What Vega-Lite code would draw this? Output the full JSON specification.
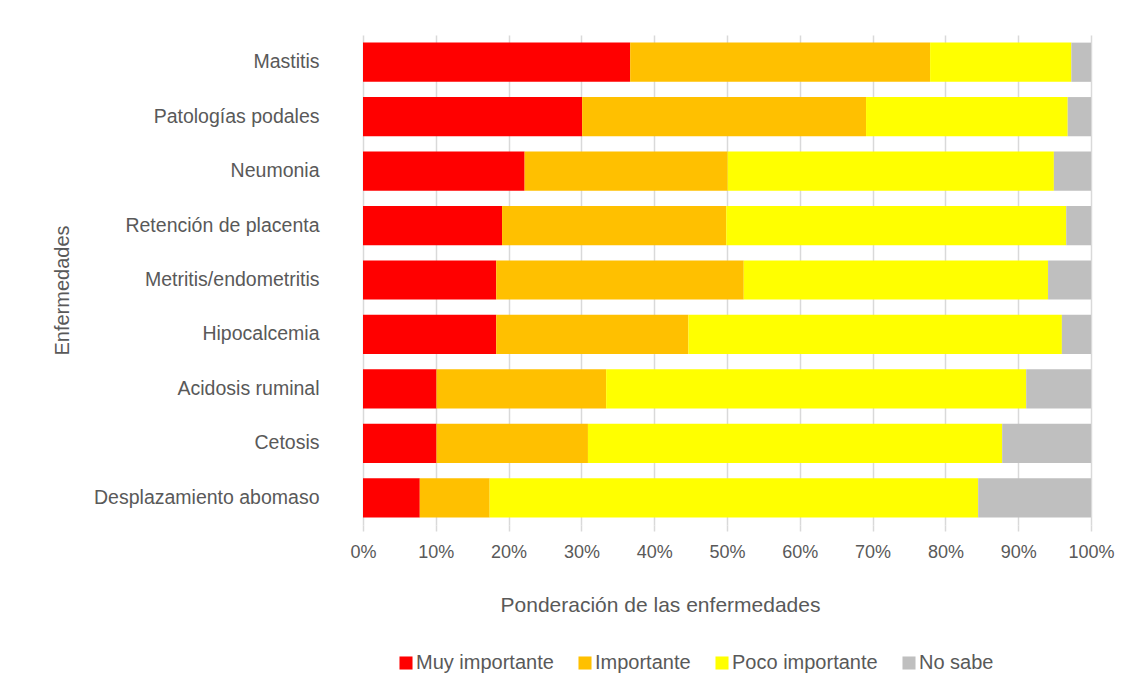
{
  "$schema": "https://vega.github.io/schema/vega-lite/v6.json",
  "width": 728,
  "height": 490,
  "autosize": {"type": "none"},
  "padding": {"left": 363, "top": 35, "right": 44, "bottom": 173},
  "background": "white",
  "config": {
    "view": {"stroke": null},
    "font": "Liberation Sans",
    "axis": {"labelColor": "#595959", "titleColor": "#595959", "titleFontWeight": "normal"},
    "legend": {"labelColor": "#595959"}
  },
  "data": {
    "values": [
      {"enfermedad": "Mastitis", "categoria": "Muy importante", "orden": 1, "valor": 36.7},
      {"enfermedad": "Mastitis", "categoria": "Importante", "orden": 2, "valor": 41.2},
      {"enfermedad": "Mastitis", "categoria": "Poco importante", "orden": 3, "valor": 19.4},
      {"enfermedad": "Mastitis", "categoria": "No sabe", "orden": 4, "valor": 2.7},
      {"enfermedad": "Patologías podales", "categoria": "Muy importante", "orden": 1, "valor": 30.1},
      {"enfermedad": "Patologías podales", "categoria": "Importante", "orden": 2, "valor": 39.0},
      {"enfermedad": "Patologías podales", "categoria": "Poco importante", "orden": 3, "valor": 27.7},
      {"enfermedad": "Patologías podales", "categoria": "No sabe", "orden": 4, "valor": 3.2},
      {"enfermedad": "Neumonia", "categoria": "Muy importante", "orden": 1, "valor": 22.2},
      {"enfermedad": "Neumonia", "categoria": "Importante", "orden": 2, "valor": 27.9},
      {"enfermedad": "Neumonia", "categoria": "Poco importante", "orden": 3, "valor": 44.8},
      {"enfermedad": "Neumonia", "categoria": "No sabe", "orden": 4, "valor": 5.1},
      {"enfermedad": "Retención de placenta", "categoria": "Muy importante", "orden": 1, "valor": 19.1},
      {"enfermedad": "Retención de placenta", "categoria": "Importante", "orden": 2, "valor": 30.8},
      {"enfermedad": "Retención de placenta", "categoria": "Poco importante", "orden": 3, "valor": 46.7},
      {"enfermedad": "Retención de placenta", "categoria": "No sabe", "orden": 4, "valor": 3.4},
      {"enfermedad": "Metritis/endometritis", "categoria": "Muy importante", "orden": 1, "valor": 18.3},
      {"enfermedad": "Metritis/endometritis", "categoria": "Importante", "orden": 2, "valor": 34.0},
      {"enfermedad": "Metritis/endometritis", "categoria": "Poco importante", "orden": 3, "valor": 41.8},
      {"enfermedad": "Metritis/endometritis", "categoria": "No sabe", "orden": 4, "valor": 5.9},
      {"enfermedad": "Hipocalcemia", "categoria": "Muy importante", "orden": 1, "valor": 18.3},
      {"enfermedad": "Hipocalcemia", "categoria": "Importante", "orden": 2, "valor": 26.4},
      {"enfermedad": "Hipocalcemia", "categoria": "Poco importante", "orden": 3, "valor": 51.3},
      {"enfermedad": "Hipocalcemia", "categoria": "No sabe", "orden": 4, "valor": 4.0},
      {"enfermedad": "Acidosis ruminal", "categoria": "Muy importante", "orden": 1, "valor": 10.1},
      {"enfermedad": "Acidosis ruminal", "categoria": "Importante", "orden": 2, "valor": 23.3},
      {"enfermedad": "Acidosis ruminal", "categoria": "Poco importante", "orden": 3, "valor": 57.7},
      {"enfermedad": "Acidosis ruminal", "categoria": "No sabe", "orden": 4, "valor": 8.9},
      {"enfermedad": "Cetosis", "categoria": "Muy importante", "orden": 1, "valor": 10.1},
      {"enfermedad": "Cetosis", "categoria": "Importante", "orden": 2, "valor": 20.8},
      {"enfermedad": "Cetosis", "categoria": "Poco importante", "orden": 3, "valor": 56.9},
      {"enfermedad": "Cetosis", "categoria": "No sabe", "orden": 4, "valor": 12.2},
      {"enfermedad": "Desplazamiento abomaso", "categoria": "Muy importante", "orden": 1, "valor": 7.8},
      {"enfermedad": "Desplazamiento abomaso", "categoria": "Importante", "orden": 2, "valor": 9.6},
      {"enfermedad": "Desplazamiento abomaso", "categoria": "Poco importante", "orden": 3, "valor": 67.1},
      {"enfermedad": "Desplazamiento abomaso", "categoria": "No sabe", "orden": 4, "valor": 15.5}
    ]
  },
  "mark": {"type": "bar"},
  "encoding": {
    "y": {
      "field": "enfermedad",
      "type": "nominal",
      "sort": ["Mastitis", "Patologías podales", "Neumonia", "Retención de placenta", "Metritis/endometritis", "Hipocalcemia", "Acidosis ruminal", "Cetosis", "Desplazamiento abomaso"],
      "scale": {"paddingInner": 0.28, "paddingOuter": 0.14},
      "axis": {
        "title": "Enfermedades",
        "titleFontSize": 20,
        "titleX": -301,
        "titleY": 255,
        "titleAngle": -90,
        "titleAlign": "center",
        "titleBaseline": "middle",
        "labelFontSize": 19.5,
        "labelPadding": 44,
        "labelLimit": 400,
        "ticks": false,
        "domain": false,
        "grid": false
      }
    },
    "x": {
      "field": "valor",
      "type": "quantitative",
      "stack": "normalize",
      "scale": {"domain": [0, 1]},
      "axis": {
        "title": "Ponderación de las enfermedades",
        "titleFontSize": 21,
        "titleX": 297,
        "titleY": 80,
        "titleAlign": "center",
        "titleBaseline": "middle",
        "format": ".0%",
        "values": [0, 0.1, 0.2, 0.3, 0.4, 0.5, 0.6, 0.7, 0.8, 0.9, 1],
        "labelFontSize": 18,
        "labelPadding": 12,
        "labelFlush": false,
        "tickSize": 6,
        "tickColor": "#D9D9D9",
        "tickWidth": 1.5,
        "grid": true,
        "gridColor": "#D9D9D9",
        "gridWidth": 1.5,
        "domain": false
      }
    },
    "color": {
      "field": "categoria",
      "type": "nominal",
      "scale": {
        "domain": ["Muy importante", "Importante", "Poco importante", "No sabe"],
        "range": ["#FF0000", "#FFC000", "#FFFF00", "#BFBFBF"]
      },
      "legend": {
        "title": null,
        "orient": "none",
        "direction": "horizontal",
        "legendX": 33,
        "legendY": 618,
        "symbolType": "square",
        "symbolSize": 170,
        "symbolStrokeWidth": 0,
        "labelFontSize": 20,
        "labelOffset": 0,
        "columnPadding": 21
      }
    },
    "order": {"field": "orden", "type": "quantitative"}
  }
}
